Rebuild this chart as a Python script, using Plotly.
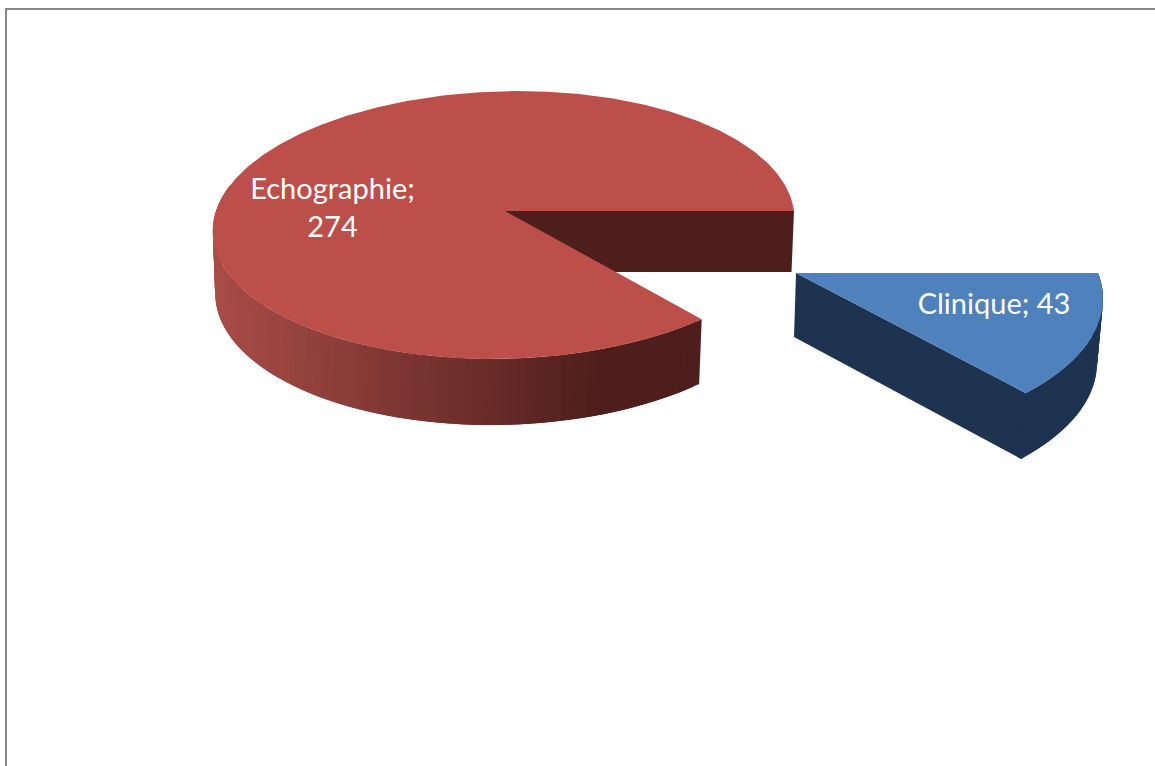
import numpy as np
import plotly.graph_objects as go

categories = ["Echographie", "Clinique"]
values = [274, 43]
label_lines = ["Echographie;<br>274", "Clinique; 43"]
label_xy = [(332.5, 211), (994, 307)]

RED_TOP = "#bd4f4b"
RED_DARK = "#4e1e1c"
RED_LEFT = "#a84c47"
BLUE_TOP = "#4f81bd"
BLUE_DARK = "#1d3350"
FONT = "Lato"
FONT_SIZE = 29

total = sum(values)
blue_sweep = 2 * np.pi * values[1] / total
red_end = blue_sweep


def project(theta, cx, cy, a, b, k, s=0.0):
    """Theta measured from the right, positive towards the viewer (down on screen)."""
    u, d = np.cos(theta), np.sin(theta)
    w = 1 - k * d
    return cx + a * u / w - s * d, cy + b * d / w


RED_T = dict(cx=505, cy=211, a=289, b=132.5, k=0.1045, s=13)
RED_B = dict(cx=505, cy=272, a=286.5, b=137, k=0.1045, s=14)
BLUE_T = dict(cx=796, cy=273, a=302, b=138, k=0.18)
BLUE_B = dict(cx=794, cy=337, a=298, b=140, k=0.18)

fig = go.Figure()


def poly(xs, ys, color, stroke=0):
    fig.add_trace(go.Scatter(x=list(xs), y=list(ys), mode="lines", fill="toself",
                             fillcolor=color, line=dict(color=color, width=stroke),
                             hoverinfo="skip", showlegend=False))


def mix(c1, c2, t):
    a = [int(c1[i:i + 2], 16) for i in (1, 3, 5)]
    b = [int(c2[i:i + 2], 16) for i in (1, 3, 5)]
    return "rgb(%d,%d,%d)" % tuple(round(p + (q - p) * t) for p, q in zip(a, b))


# Red: inner wall seen through the notch
x0t, y0t = project(0.0, **RED_T)
x0b, y0b = project(0.0, **RED_B)
poly([RED_T["cx"], x0t, x0b, RED_B["cx"]], [RED_T["cy"], y0t, y0b, RED_B["cy"]], RED_DARK)

# Red: outer rim as shaded, overlapping strips (painted right to left)
edges = np.linspace(red_end, np.pi + 0.2, 91)
for i, (t0, t1) in enumerate(zip(edges[:-1], edges[1:])):
    t2 = edges[min(i + 2, len(edges) - 1)]
    xt0, yt0 = project(t0, **RED_T)
    xt2, yt2 = project(t2, **RED_T)
    xb0, yb0 = project(t0, **RED_B)
    xb1, _ = project(t1, **RED_B)
    xb2, yb2 = project(t2, **RED_B)
    shade = np.clip((600 - (xb0 + xb1) / 2) / (600 - 220), 0, 1)
    poly([xt0, xt2, xb2, xb0], [yt0, yt2, yb2, yb0], mix(RED_DARK, RED_LEFT, shade))

# Red: top surface
th = np.linspace(red_end, 2 * np.pi, 400)
x, y = project(th, **RED_T)
poly(np.r_[RED_T["cx"], x], np.r_[RED_T["cy"], y], RED_TOP)

# Blue: rim strips and cut face
edges = np.linspace(0, blue_sweep, 41)
for i, (t0, t1) in enumerate(zip(edges[:-1], edges[1:])):
    t2 = edges[min(i + 2, len(edges) - 1)]
    xt0, yt0 = project(t0, **BLUE_T)
    xt1, yt1 = project(t2, **BLUE_T)
    xb0, yb0 = project(t0, **BLUE_B)
    xb1, yb1 = project(t2, **BLUE_B)
    poly([xt0, xt1, xb1, xb0], [yt0, yt1, yb1, yb0], BLUE_DARK)
th = np.linspace(0, blue_sweep, 120)
xt, yt = project(th, **BLUE_T)
xb, yb = project(th, **BLUE_B)
# A thin seam-only line between the rim and the cut face, then the face itself
fig.add_trace(go.Scatter(x=[xt[-1], xb[-1]], y=[yt[-1], yb[-1]], mode="lines",
                         line=dict(color=BLUE_DARK, width=1.5), hoverinfo="skip", showlegend=False))
poly([BLUE_T["cx"], xt[-1], xb[-1], BLUE_B["cx"]], [BLUE_T["cy"], yt[-1], yb[-1], BLUE_B["cy"]], BLUE_DARK)

# Blue: top surface
poly(np.r_[BLUE_T["cx"], xt], np.r_[BLUE_T["cy"], yt], BLUE_TOP)

# Data labels
fig.add_trace(go.Scatter(x=[p[0] for p in label_xy], y=[p[1] for p in label_xy],
                         mode="text", text=label_lines, textposition="middle center",
                         textfont=dict(family=FONT, size=FONT_SIZE, color="white"),
                         hoverinfo="skip", showlegend=False))

fig.update_layout(
    width=1155, height=766, margin=dict(l=0, r=0, t=0, b=0),
    paper_bgcolor="white", plot_bgcolor="white", showlegend=False,
    xaxis=dict(range=[0, 1155], visible=False, fixedrange=True),
    yaxis=dict(range=[766, 0], visible=False, fixedrange=True),
    shapes=[dict(type="line", x0=6, x1=6, y0=9, y1=766, line=dict(color="#868686", width=2)),
            dict(type="line", x0=5, x1=1155, y0=9, y1=9, line=dict(color="#868686", width=2))],
)

fig.write_html("out.html", config=dict(displayModeBar=False),
               post_script="document.body.style.margin='0';document.body.style.overflow='hidden';")
